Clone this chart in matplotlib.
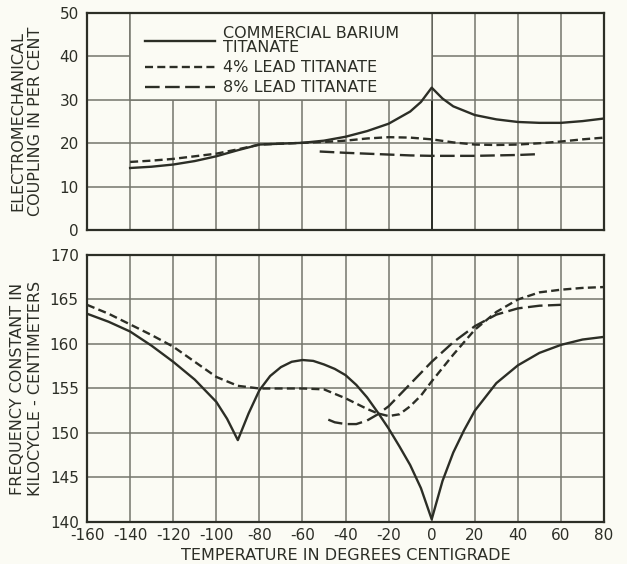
import matplotlib
matplotlib.use("Agg")
import matplotlib.pyplot as plt
from matplotlib.patches import Rectangle

# ---------------- data ----------------
# Top panel: electromechanical coupling (per cent)
top_barium_x = [-140, -130, -120, -110, -100, -90, -80, -70, -60, -50, -40, -30, -20, -10, -5, 0, 5, 10, 20, 30, 40, 50, 60, 70, 80]
top_barium_y = [14.3, 14.6, 15.1, 15.9, 17.0, 18.4, 19.7, 19.9, 20.1, 20.6, 21.5, 22.8, 24.5, 27.3, 29.5, 32.8, 30.3, 28.5, 26.5, 25.5, 24.9, 24.7, 24.7, 25.1, 25.7]

top_lead4_x = [-140, -130, -120, -110, -100, -90, -80, -70, -60, -50, -40, -30, -20, -10, 0, 10, 20, 30, 40, 50, 60, 70, 80]
top_lead4_y = [15.7, 16.0, 16.4, 17.0, 17.6, 18.6, 19.7, 19.9, 20.1, 20.3, 20.6, 21.1, 21.4, 21.3, 20.9, 20.2, 19.7, 19.6, 19.7, 20.0, 20.4, 20.9, 21.3]

top_lead8_x = [-52, -40, -30, -20, -10, 0, 10, 20, 30, 40, 50]
top_lead8_y = [18.1, 17.8, 17.6, 17.4, 17.2, 17.1, 17.1, 17.1, 17.2, 17.3, 17.5]

# Bottom panel: frequency constant (kilocycle-centimeters)
bot_barium_x = [-160, -150, -140, -130, -120, -110, -100, -95, -90, -85, -80, -75, -70, -65, -60, -55, -50, -45, -40, -35, -30, -25, -20, -15, -10, -5, 0, 5, 10, 15, 20, 30, 40, 50, 60, 70, 80]
bot_barium_y = [163.4, 162.5, 161.4, 159.8, 158.0, 156.0, 153.5, 151.6, 149.2, 152.2, 154.8, 156.4, 157.4, 158.0, 158.2, 158.1, 157.7, 157.2, 156.5, 155.4, 154.0, 152.3, 150.5, 148.5, 146.4, 143.8, 140.3, 144.6, 147.8, 150.3, 152.5, 155.6, 157.6, 159.0, 159.9, 160.5, 160.8]

bot_lead4_x = [-160, -150, -140, -130, -120, -110, -100, -90, -80, -70, -60, -50, -40, -30, -25, -20, -15, -10, -5, 0, 10, 20, 30, 40, 50, 60, 70, 80]
bot_lead4_y = [164.4, 163.4, 162.2, 161.0, 159.7, 158.0, 156.3, 155.3, 155.0, 155.0, 155.0, 154.9, 153.9, 152.7, 152.2, 151.9, 152.1, 153.0, 154.2, 155.8, 158.8, 161.6, 163.6, 165.0, 165.8, 166.1, 166.3, 166.4]

bot_lead8_x = [-48, -45, -40, -35, -30, -25, -20, -10, 0, 10, 20, 30, 40, 50, 60]
bot_lead8_y = [151.5, 151.2, 151.0, 151.0, 151.4, 152.1, 153.0, 155.5, 158.0, 160.2, 162.0, 163.3, 164.0, 164.3, 164.4]

x_ticks = [-160, -140, -120, -100, -80, -60, -40, -20, 0, 20, 40, 60, 80]
x_tick_labels = ["-160", "-140", "-120", "-100", "-80", "-60", "-40", "-20", "0", "20", "40", "60", "80"]
top_y_ticks = [0, 10, 20, 30, 40, 50]
bot_y_ticks = [140, 145, 150, 155, 160, 165, 170]

legend_labels = ["COMMERCIAL BARIUM\nTITANATE", "4% LEAD TITANATE", "8% LEAD TITANATE"]
top_ylabel = "ELECTROMECHANICAL\nCOUPLING IN PER CENT"
bot_ylabel = "FREQUENCY CONSTANT IN\nKILOCYCLE - CENTIMETERS"
x_label = "TEMPERATURE IN DEGREES CENTIGRADE"

# ---------------- style ----------------
BG = "#fbfbf4"
INK = "#2c2e26"
GRID = "#74756c"
plt.rcParams["font.family"] = ["DejaVu Sans"]
plt.rcParams["axes.unicode_minus"] = False

fig = plt.figure(figsize=(6.27, 5.64), dpi=100, facecolor=BG)
ax1 = fig.add_axes([0.1388, 0.592, 0.8246, 0.385])
ax2 = fig.add_axes([0.1388, 0.0745, 0.8246, 0.4734])

LW = 1.7
ls_solid = "-"
ls_4 = (0, (3.4, 1.8))
ls_8 = (0, (6.2, 2.3))

for ax in (ax1, ax2):
    ax.set_facecolor(BG)
    ax.set_xlim(-160, 80)
    ax.set_xticks(x_ticks)
    ax.grid(True, color=GRID, linewidth=1.1)
    ax.set_axisbelow(True)
    ax.tick_params(length=0, labelsize=11, colors=INK, pad=6)
    for s in ax.spines.values():
        s.set_color(INK)
        s.set_linewidth(1.6)

# top panel
ax1.set_ylim(0, 50)
ax1.set_yticks(top_y_ticks)
ax1.set_xticklabels([])
h1, = ax1.plot(top_barium_x, top_barium_y, color=INK, lw=LW, ls=ls_solid, zorder=4)
h2, = ax1.plot(top_lead4_x, top_lead4_y, color=INK, lw=LW, ls=ls_4, zorder=4)
h3, = ax1.plot(top_lead8_x, top_lead8_y, color=INK, lw=LW, ls=ls_8, zorder=4)
ax1.axvline(0, color=INK, lw=1.4, zorder=1)
ax1.add_patch(Rectangle((-140, 30), 140, 20, facecolor=BG, edgecolor=GRID, lw=1.1, zorder=2))
leg = ax1.legend([h1, h2, h3], legend_labels, loc="upper left", bbox_to_anchor=(0.09, 0.99),
                 frameon=False, fontsize=11.5, handlelength=4.4, handletextpad=0.5,
                 labelspacing=0.32, borderaxespad=0.3)
for t in leg.get_texts():
    t.set_color(INK)
    t.set_linespacing(0.9)
leg.set_zorder(5)
ax1.set_ylabel(top_ylabel, fontsize=11.5, color=INK, linespacing=1.2)
ax1.yaxis.set_label_coords(-0.086, 0.5)

# bottom panel
ax2.set_ylim(140, 170)
ax2.set_yticks(bot_y_ticks)
ax2.set_xticklabels(x_tick_labels)
ax2.tick_params(axis="x", pad=4)
ax2.plot(bot_barium_x, bot_barium_y, color=INK, lw=LW, ls=ls_solid, zorder=4)
ax2.plot(bot_lead4_x, bot_lead4_y, color=INK, lw=LW, ls=ls_4, zorder=4)
ax2.plot(bot_lead8_x, bot_lead8_y, color=INK, lw=LW, ls=ls_8, zorder=4)
ax2.set_ylabel(bot_ylabel, fontsize=11.5, color=INK, linespacing=1.2)
ax2.yaxis.set_label_coords(-0.086, 0.5)
ax2.set_xlabel(x_label, fontsize=11.5, color=INK, labelpad=4)

fig.savefig("out.png", dpi=100, facecolor=BG)
